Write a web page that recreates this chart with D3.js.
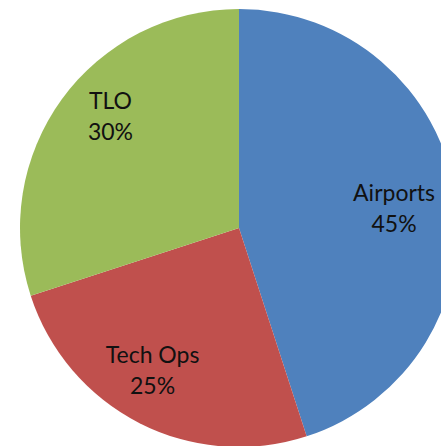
<!DOCTYPE html>
<html><head><meta charset="utf-8">
<script src="https://cdn.jsdelivr.net/npm/d3@7"></script>
<style>html,body{margin:0;padding:0;background:#fff;overflow:hidden}</style>
</head><body>
<svg id="chart" width="441" height="446"></svg>
<script>
const categories = ["Airports", "Tech Ops", "TLO"];
const values = [45, 25, 30];
const colors = ["#4F81BD", "#C0504D", "#9BBB59"];

// layout
const cx = 239, cy = 228, R = 219;
const labelRadius = [157, 175, 175];
const labelNudge = [[0, 4], [-7, -15], [13, -10]];

const svg = d3.select("#chart");
const g = svg.append("g").attr("transform", `translate(${cx},${cy})`);
const pie = d3.pie().sort(null).value(d => d)(values);
const arc = d3.arc().innerRadius(0).outerRadius(R);

g.selectAll("path").data(pie).join("path")
  .attr("d", arc).attr("fill", (d, i) => colors[i]);

const total = d3.sum(values);
pie.forEach((d, i) => {
  const a = (d.startAngle + d.endAngle) / 2;
  const x = Math.sin(a) * labelRadius[i] + labelNudge[i][0];
  const y = -Math.cos(a) * labelRadius[i] + labelNudge[i][1];
  const t = g.append("text").attr("text-anchor", "middle")
    .attr("font-family", "Lato, 'Open Sans', sans-serif").attr("font-size", 23)
    .attr("fill", "#111");
  t.append("tspan").attr("x", x).attr("y", y - 6).text(categories[i]);
  t.append("tspan").attr("x", x).attr("y", y + 25).text(d3.format(".0%")(values[i] / total));
});
</script>
</body></html>
